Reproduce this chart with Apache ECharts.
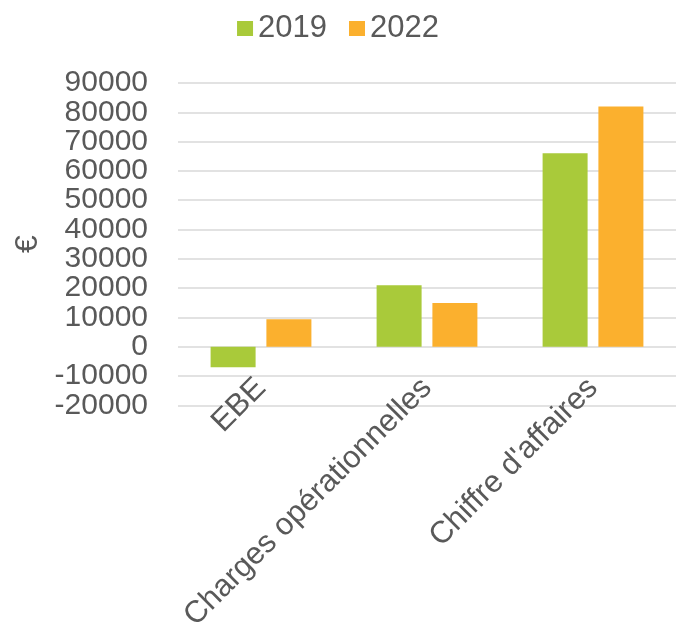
<!DOCTYPE html>
<html>
<head>
<meta charset="utf-8">
<script src="https://cdn.jsdelivr.net/npm/echarts@6/dist/echarts.min.js"></script>
<style>
  html, body { margin: 0; padding: 0; background: #fff; }
  #chart { width: 676px; height: 634px; }
</style>
</head>
<body>
<div id="chart"></div>
<script>
// Indicateurs financiers, 2019 vs 2022 (en euros)
const categories = ['EBE', 'Charges opérationnelles', "Chiffre d'affaires"];
const values2019 = [-7000, 21000, 66000];
const values2022 = [9400, 14900, 82000];
const seriesNames = ['2019', '2022'];
const yMin = -20000;
const yMax = 90000;
const yStep = 10000;

const textColor = '#595959';
const gridColor = '#d9d9d9';
const font = 'Liberation Sans, Arial, sans-serif';

// The tick labels are tall relative to the tick spacing, so they are split
// over two stacked value axes (same scale): one prints even steps, the other
// odd steps. This keeps ECharts from dropping the end labels as overlapping.
function labelAxis(parity, withGrid, withName) {
  return {
    type: 'value',
    position: 'left',
    min: yMin,
    max: yMax,
    interval: yStep,
    name: withName ? '€' : '',
    nameLocation: 'middle',
    nameRotate: 90,
    nameGap: 131,
    nameTextStyle: { color: textColor, fontSize: 32, fontFamily: font },
    axisLine: { show: false },
    axisTick: { show: false },
    axisLabel: {
      margin: 30,
      color: textColor,
      fontSize: 30,
      fontFamily: font,
      showMinLabel: true,
      showMaxLabel: true,
      formatter: (v) => (Math.round((v - yMin) / yStep) % 2 === parity ? String(v) : '')
    },
    splitLine: { show: withGrid, lineStyle: { color: gridColor, width: 1.5 } }
  };
}

const chart = echarts.init(document.getElementById('chart'));
chart.setOption({
  animation: false,
  textStyle: { fontFamily: font },
  color: ['#a9ca3a', '#fbb02e'],
  legend: {
    top: 8,
    left: 'center',
    icon: 'rect',
    itemWidth: 16,
    itemHeight: 15,
    itemGap: 22,
    textStyle: { color: textColor, fontSize: 31, fontFamily: font },
    data: seriesNames
  },
  grid: { left: 178, right: 0, top: 83, bottom: 219 },
  xAxis: {
    type: 'category',
    data: categories,
    axisLine: { show: false, onZero: false },
    axisTick: { show: false },
    splitLine: { show: false },
    axisLabel: {
      rotate: 45,
      interval: 0,
      margin: -22,
      color: textColor,
      fontSize: 31,
      fontFamily: font
    }
  },
  yAxis: [labelAxis(0, true, true), labelAxis(1, false, false)],
  series: [
    { name: seriesNames[0], type: 'bar', data: values2019, barWidth: 45, barGap: '24%' },
    { name: seriesNames[1], type: 'bar', data: values2022, barWidth: 45, barGap: '24%' }
  ]
});
</script>
</body>
</html>
